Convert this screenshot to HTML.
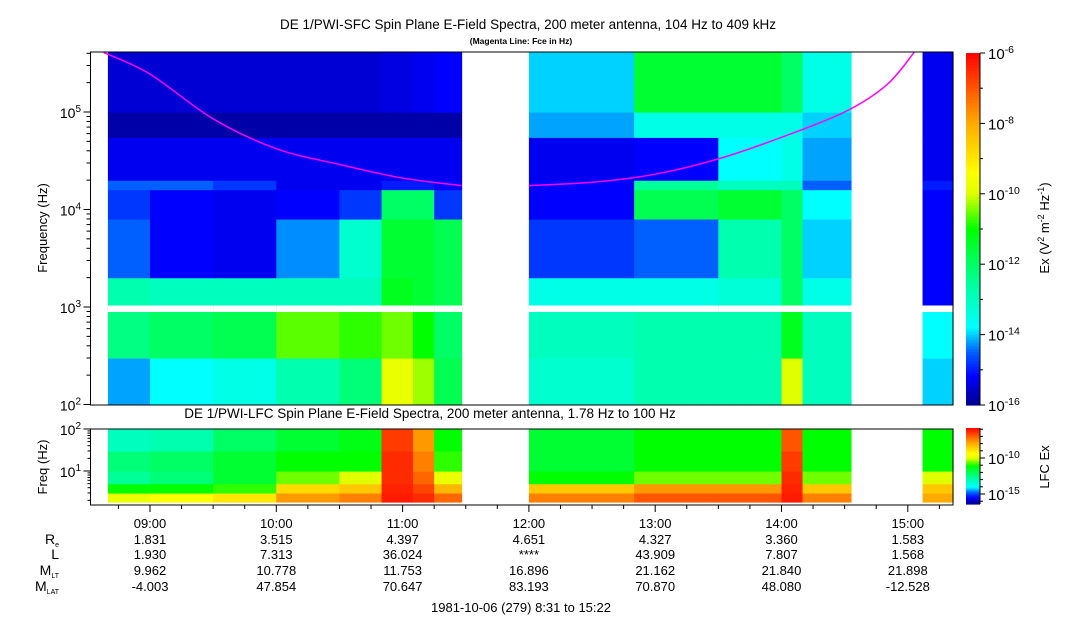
<!DOCTYPE html>
<html><head><meta charset="utf-8">
<style>
html,body{margin:0;padding:0;background:#fff;}
svg{display:block;font-family:"Liberation Sans",sans-serif;}
</style></head>
<body>
<svg id="chart" width="1083" height="620" viewBox="0 0 1083 620">
<text x="528" y="29" font-size="13.5" text-anchor="middle">DE 1/PWI-SFC  Spin Plane E-Field Spectra, 200 meter antenna, 104 Hz to 409 kHz</text>
<text x="521" y="44" font-size="8.5" text-anchor="middle" font-weight="bold">(Magenta Line: Fce in Hz)</text>
<text x="430" y="418" font-size="13.5" text-anchor="middle">DE 1/PWI-LFC  Spin Plane E-Field Spectra, 200 meter antenna, 1.78 Hz to 100 Hz</text>
<text transform="translate(47,228) rotate(-90)" font-size="13" text-anchor="middle">Frequency (Hz)</text>
<text transform="translate(47,467) rotate(-90)" font-size="13" text-anchor="middle">Freq (Hz)</text>
<text transform="translate(1049,228) rotate(-90)" font-size="13" text-anchor="middle">Ex (V<tspan font-size="9" dy="-5">2</tspan><tspan dy="5"> m</tspan><tspan font-size="9" dy="-5">-2</tspan><tspan dy="5"> Hz</tspan><tspan font-size="9" dy="-5">-1</tspan><tspan dy="5">)</tspan></text>
<text transform="translate(1049,467) rotate(-90)" font-size="13" text-anchor="middle">LFC Ex</text>
<text x="521" y="612" font-size="13" text-anchor="middle">1981-10-06 (279) 8:31 to 15:22</text>
<g id="g"></g>
</svg>
<script>
// ---- data ----
var segStart = [520,540,570,600,630,650,665,675,720,770,810,840,850,907];
var segEnd   = [540,570,600,630,650,665,675,688,770,810,840,850,873,922];
var bandLo = [100,300,1000,2000,8000,16000,20000,55000,100000];
var bandHi = [300,1000,2000,8000,16000,20000,55000,100000,409000];
var sfcValues = [
 [-14.2,-12.3,-12.8,-14.5,-14.8,-14.5,-15.3,-15.8,-15.5],
 [-13.8,-12,-13,-15.2,-15.2,-14.5,-15.3,-15.8,-15.5],
 [-13.5,-11.8,-13,-15.3,-15.3,-14.8,-15.3,-15.8,-15.5],
 [-12.8,-10.6,-13,-14.3,-15.2,-15.3,-15.3,-15.8,-15.5],
 [-12.2,-10.8,-13,-13.2,-14.8,-15.3,-15.3,-15.8,-15.5],
 [-9.8,-10.5,-11.3,-11.5,-12,-15,-15.3,-15.8,-15.4],
 [-10.3,-11,-11.5,-11.5,-12,-15,-15.3,-15.8,-15.3],
 [-11.8,-12,-11.8,-11.8,-14.8,-15.2,-15.3,-15.8,-15.2],
 [-13.2,-13,-13.5,-14.8,-15.2,-15.2,-15.3,-14.2,-14],
 [-12.8,-12.8,-13.5,-14.5,-11.8,-12.5,-15.2,-13.5,-11.5],
 [-12.8,-12.8,-13.3,-12.8,-11.5,-13,-13.8,-13.5,-11.5],
 [-10,-11.3,-12,-12,-12,-13,-13.5,-13.5,-12],
 [-13,-13,-13.5,-14,-13.8,-14.5,-14.2,-14,-13.5],
 [-14,-13.8,-15.2,-15.2,-15.2,-15,-15.3,-15.3,-15.3]
];
var lfcLo = [1.78,3,5,10,30];
var lfcHi = [3,5,10,30,100];
var lfcValues = [
 [0.62,0.5,0.35,0.38,0.3],
 [0.65,0.5,0.38,0.4,0.32],
 [0.7,0.52,0.45,0.45,0.4],
 [0.82,0.72,0.55,0.5,0.45],
 [0.85,0.75,0.6,0.5,0.48],
 [0.97,0.96,0.95,0.95,0.93],
 [0.95,0.92,0.88,0.85,0.82],
 [0.88,0.78,0.62,0.52,0.5],
 [0.85,0.75,0.5,0.45,0.45],
 [0.9,0.82,0.55,0.5,0.5],
 [0.9,0.82,0.55,0.5,0.5],
 [0.97,0.96,0.95,0.93,0.9],
 [0.85,0.75,0.55,0.5,0.5],
 [0.8,0.75,0.6,0.5,0.5]
];
var fceTimes1 = [518,540,570,600,630,660,688];
var fceVals1  = [409000,245000,85000,42000,29000,21000,17600];
var fceTimes2 = [720,750,780,810,840,870,890,903];
var fceVals2  = [17600,19000,23000,33000,55000,100000,190000,409000];
var tickHours = ["09:00","10:00","11:00","12:00","13:00","14:00","15:00"];
var rowLabels = ["R","L","M","M"];
var reVals   = ["1.831","3.515","4.397","4.651","4.327","3.360","1.583"];
var lVals    = ["1.930","7.313","36.024","****","43.909","7.807","1.568"];
var mltVals  = ["9.962","10.778","11.753","16.896","21.162","21.840","21.898"];
var mlatVals = ["-4.003","47.854","70.647","83.193","70.870","48.080","-12.528"];

// ---- scales ----
var NS="http://www.w3.org/2000/svg", G=document.getElementById('g');
var L=90.5, R=953, T=52, B=405, LT=429, LB=505;
function xT(m){return 150+(m-540)*126.3/60;}
function yF(f){return 307-(Math.log10(f)-3)*97.5;}
function yL(f){return 471-(Math.log10(f)-1)*42;}
var stops=[[0,[0,0,140]],[0.08,[0,0,255]],[0.15,[0,96,255]],[0.22,[0,255,255]],[0.35,[0,255,150]],[0.5,[0,255,0]],[0.6,[224,255,0]],[0.66,[255,255,0]],[0.8,[255,170,0]],[1,[255,0,0]]];
function cmap(t){t=Math.max(0,Math.min(1,t));for(var i=1;i<stops.length;i++){if(t<=stops[i][0]){var a=stops[i-1],b=stops[i],u=(t-a[0])/(b[0]-a[0]);return 'rgb('+[0,1,2].map(function(k){return Math.round(a[1][k]+(b[1][k]-a[1][k])*u)}).join(',')+')';}}return 'rgb(255,0,0)';}
function el(tag,at,parent){var e=document.createElementNS(NS,tag);for(var k in at)e.setAttribute(k,at[k]);(parent||G).appendChild(e);return e;}
function txt(x,y,s,size,anchor,parent){var e=el('text',{x:x,y:y,'font-size':size,'text-anchor':anchor||'middle'},parent);e.textContent=s;return e;}

// ---- SFC heatmap ----
for(var i=0;i<segStart.length;i++){
  var x0=Math.max(xT(segStart[i]),106), x1=Math.min(xT(segEnd[i]),R);
  for(var b=0;b<bandLo.length;b++){
    var y0=Math.max(yF(bandHi[b]),T), y1=Math.min(yF(bandLo[b]),B);
    var c=el('rect',{x:x0,y:y0,width:x1-x0+0.6,height:y1-y0+0.6,fill:cmap((sfcValues[i][b]+16)/10)});
    
    
  }
  var gap=el('rect',{x:x0,y:305.5,width:x1-x0+0.6,height:6.5,fill:'#fff'});
  
  
}
// ---- LFC heatmap ----
for(var i=0;i<segStart.length;i++){
  var x0=Math.max(xT(segStart[i]),106), x1=Math.min(xT(segEnd[i]),R);
  for(var b=0;b<lfcLo.length;b++){
    var y0=Math.max(yL(lfcHi[b]),LT), y1=Math.min(yL(lfcLo[b]),LB-3);
    var c=el('rect',{x:x0,y:y0,width:x1-x0+0.6,height:y1-y0+0.6,fill:cmap(lfcValues[i][b])});
    
    
  }
}
// ---- Fce line (Catmull-Rom smoothing) ----
function fcePath(ts,vs){
  var p=[];for(var i=0;i<ts.length;i++)p.push([xT(ts[i]),yF(vs[i])]);
  var d='M'+p[0][0].toFixed(1)+','+p[0][1].toFixed(1);
  for(var i=0;i<p.length-1;i++){var p0=p[Math.max(i-1,0)],p1=p[i],p2=p[i+1],p3=p[Math.min(i+2,p.length-1)];
    d+='C'+(p1[0]+(p2[0]-p0[0])/6).toFixed(1)+','+(p1[1]+(p2[1]-p0[1])/6).toFixed(1)+' '+(p2[0]-(p3[0]-p1[0])/6).toFixed(1)+','+(p2[1]-(p3[1]-p1[1])/6).toFixed(1)+' '+p2[0].toFixed(1)+','+p2[1].toFixed(1);}
  return d;}
var clip=el('clipPath',{id:'plotclip'});
el('rect',{x:L,y:T,width:R-L,height:B-T},clip);
var f1=el('path',{d:fcePath(fceTimes1,fceVals1),fill:'none',stroke:'#ff00ff','stroke-width':1.5,'clip-path':'url(#plotclip)'});


var f2=el('path',{d:fcePath(fceTimes2,fceVals2),fill:'none',stroke:'#ff00ff','stroke-width':1.5,'clip-path':'url(#plotclip)'});



// ---- frames ----
var fr1=el('rect',{x:L,y:T,width:R-L,height:B-T,fill:'none',stroke:'#000','stroke-width':1});


var fr2=el('rect',{x:L,y:LT,width:R-L,height:LB-LT,fill:'none',stroke:'#000','stroke-width':1});



// ---- y ticks SFC ----
var ytk=el('g',{stroke:'#000','stroke-width':1});


for(var d=2;d<=5;d++){for(var m=1;m<=9;m++){var f=m*Math.pow(10,d);if(f>409000)break;var y=yF(f);if(y>B+0.5)continue;el('line',{x1:L-(m==1?7:4),x2:L,y1:y,y2:y},ytk);}}
for(var d=2;d<=5;d++){var t=txt(81,yF(Math.pow(10,d))+6,'10',14,'end');var s=el('tspan',{'font-size':10,dy:-6},t);s.textContent=d;}
// ---- y ticks LFC ----
var ytk2=el('g',{stroke:'#000','stroke-width':1});


for(var d=0;d<=1;d++){for(var m=1;m<=9;m++){var f=m*Math.pow(10,d);if(f<1.78)continue;var y=yL(f);el('line',{x1:L-(m==1?7:3),x2:L,y1:y,y2:y},ytk2);}}
el('line',{x1:L-7,x2:L,y1:yL(100),y2:yL(100)},ytk2);
[1,2].forEach(function(d){var t=txt(81,yL(Math.pow(10,d))+6,'10',14,'end');var s=el('tspan',{'font-size':10,dy:-6},t);s.textContent=d;});
// ---- x ticks ----
var xtk=el('g',{stroke:'#000','stroke-width':1});


for(var m=525;m<=915;m+=15){var x=xT(m);if(x<L||x>R)continue;el('line',{x1:x,x2:x,y1:LB,y2:LB+(m%60==0?7:4)},xtk);}
var rows=[tickHours,reVals,lVals,mltVals,mlatVals], ry=[528,544,559,575,591];
for(var r=0;r<rows.length;r++){for(var i=0;i<rows[r].length;i++){var t=txt(xT(540+60*i),ry[r],rows[r][i],13);}}
var subs=['e','','LT','LAT'];
for(var r=0;r<4;r++){var t=txt(59,ry[r+1],rowLabels[r],14,'end');if(subs[r]){var s=el('tspan',{'font-size':7,dy:3},t);s.textContent=subs[r];}}

// ---- colorbars ----
var CX=966, CW=14;
for(var k=0;k<120;k++){var y0=53+k*(405-53)/120;var cb=el('rect',{x:CX,y:y0,width:CW,height:(405-53)/120+0.6,fill:cmap(1-(k+0.5)/120)});}
for(var k=0;k<60;k++){var y0=428+k*(504-428)/60;var cb=el('rect',{x:CX,y:y0,width:CW,height:(504-428)/60+0.6,fill:cmap(1-(k+0.5)/60)});}
var ctk=el('g',{stroke:'#000','stroke-width':1});


el('line',{x1:CX+CW,x2:CX+CW,y1:53,y2:405},ctk);
for(var e=-16;e<=-6;e++){var y=405-(e+16)*35.2;el('line',{x1:CX+CW,x2:CX+CW+(e%2==0?5:3),y1:y,y2:y},ctk);
 if(e%2==0){var t=txt(CX+CW+8,y+6,'10',15,'start');var s=el('tspan',{'font-size':10.5,dy:-6},t);s.textContent=e;}}
el('line',{x1:CX+CW,x2:CX+CW,y1:428,y2:504},ctk);
for(var e=-16;e<=-6;e++){var y=494-(e+15)*7.2;if(y<428||y>504)continue;el('line',{x1:CX+CW,x2:CX+CW+(e%5==0?5:3),y1:y,y2:y},ctk);
 if(e%5==0){var t=txt(CX+CW+8,y+6,'10',15,'start');var s=el('tspan',{'font-size':10.5,dy:-6},t);s.textContent=e;}}
</script>
</body></html>
